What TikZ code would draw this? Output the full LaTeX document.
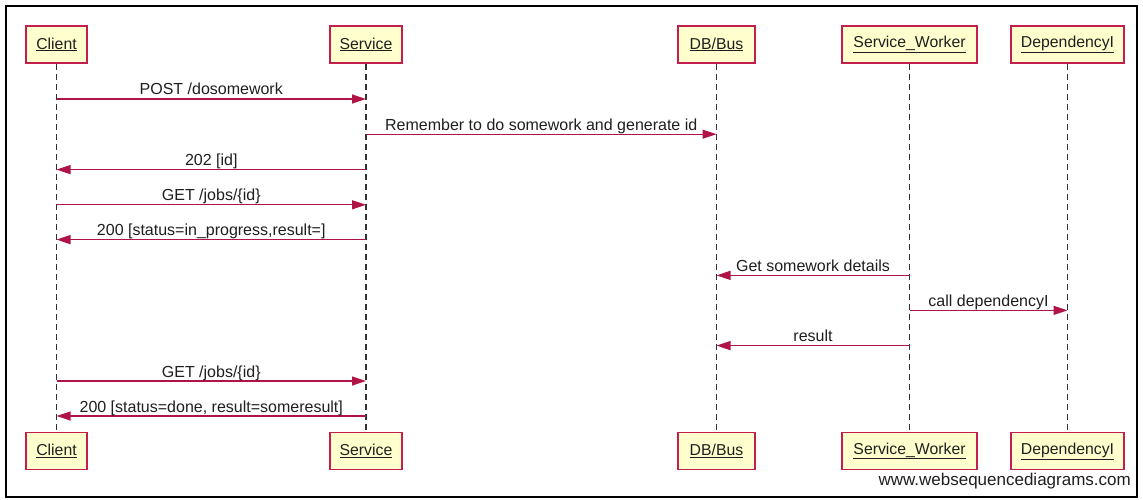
\documentclass[tikz,border=0pt]{standalone}
\usepackage{fontspec}
\setmainfont{Liberation Sans}
\usetikzlibrary{arrows.meta}
\definecolor{boxfill}{RGB}{255,255,206}
\definecolor{boxline}{RGB}{196,30,78}
\definecolor{msgline}{RGB}{176,20,70}
\definecolor{lifecol}{RGB}{50,50,50}
\tikzset{
  part/.style={draw=boxline, fill=boxfill, line width=1.4pt, minimum height=37pt, inner sep=0pt, font=\fontsize{15.8}{18}\selectfont, text=black!88},
  life/.style={draw=lifecol, line width=1.1pt, dash pattern=on 6pt off 4pt},
  msg/.style={draw=msgline, line width=1.2pt, -{Triangle[length=14pt,width=9pt]}},
  lbl/.style={pos=0.5, anchor=base, yshift=4pt, inner sep=0pt, font=\fontsize{16}{18}\selectfont, text=black!88}
}
\begin{document}
\begin{tikzpicture}[x=1pt,y=-1pt]
\useasboundingbox (0,0) rectangle (1143,500);
\fill[white] (0,0) rectangle (1143,500);
\draw[line width=2.5pt] (6,6) rectangle (1137,497);
% top participants
\node[part, minimum width=61pt]  (c) at (56.5,44.5) {\underline{Client}};
\node[part, minimum width=72pt]  (s) at (366,44.5) {\underline{Service}};
\node[part, minimum width=77pt]  (d) at (716.5,44.5) {\underline{DB/Bus}};
\node[part, minimum width=135pt] (w) at (909.5,44.5) {\underline{Service\_Worker}};
\node[part, minimum width=113pt] (p) at (1067.5,44.5) {\underline{DependencyI}};
% bottom participants
\node[part, minimum width=61pt]  (cb) at (56.5,451) {\underline{Client}};
\node[part, minimum width=72pt]  (sb) at (366,451) {\underline{Service}};
\node[part, minimum width=77pt]  (db) at (716.5,451) {\underline{DB/Bus}};
\node[part, minimum width=135pt] (wb) at (909.5,451) {\underline{Service\_Worker}};
\node[part, minimum width=113pt] (pb) at (1067.5,451) {\underline{DependencyI}};
% lifelines
\draw[life] (c.south) -- (cb.north);
\draw[life] (s.south) -- (sb.north);
\draw[life] (d.south) -- (db.north);
\draw[life] (w.south) -- (wb.north);
\draw[life] (p.south) -- (pb.north);
% message rows
\coordinate (r1) at (0,99);
\coordinate (r2) at (0,134.2);
\coordinate (r3) at (0,169.6);
\coordinate (r4) at (0,204.8);
\coordinate (r5) at (0,239.6);
\coordinate (r6) at (0,275.4);
\coordinate (r7) at (0,310.4);
\coordinate (r8) at (0,345.6);
\coordinate (r9) at (0,381);
\coordinate (r10) at (0,416);
\draw[msg] (c |- r1) -- node[lbl]{POST /dosomework} (s |- r1);
\draw[msg] (s |- r2) -- node[lbl]{Remember to do somework and generate id} (d |- r2);
\draw[msg] (s |- r3) -- node[lbl]{202 [id]} (c |- r3);
\draw[msg] (c |- r4) -- node[lbl]{GET /jobs/\{id\}} (s |- r4);
\draw[msg] (s |- r5) -- node[lbl]{200 [status=in\_progress,result=]} (c |- r5);
\draw[msg] (w |- r6) -- node[lbl]{Get somework details} (d |- r6);
\draw[msg] (w |- r7) -- node[lbl]{call dependencyI} (p |- r7);
\draw[msg] (w |- r8) -- node[lbl]{result} (d |- r8);
\draw[msg] (c |- r9) -- node[lbl]{GET /jobs/\{id\}} (s |- r9);
\draw[msg] (s |- r10) -- node[lbl]{200 [status=done, result=someresult]} (c |- r10);
% watermark
\node[anchor=base east, inner sep=0pt, font=\fontsize{17}{20}\selectfont, text=black!88] (wm) at (1131,485) {www.websequencediagrams.com};
\end{tikzpicture}
\end{document}
